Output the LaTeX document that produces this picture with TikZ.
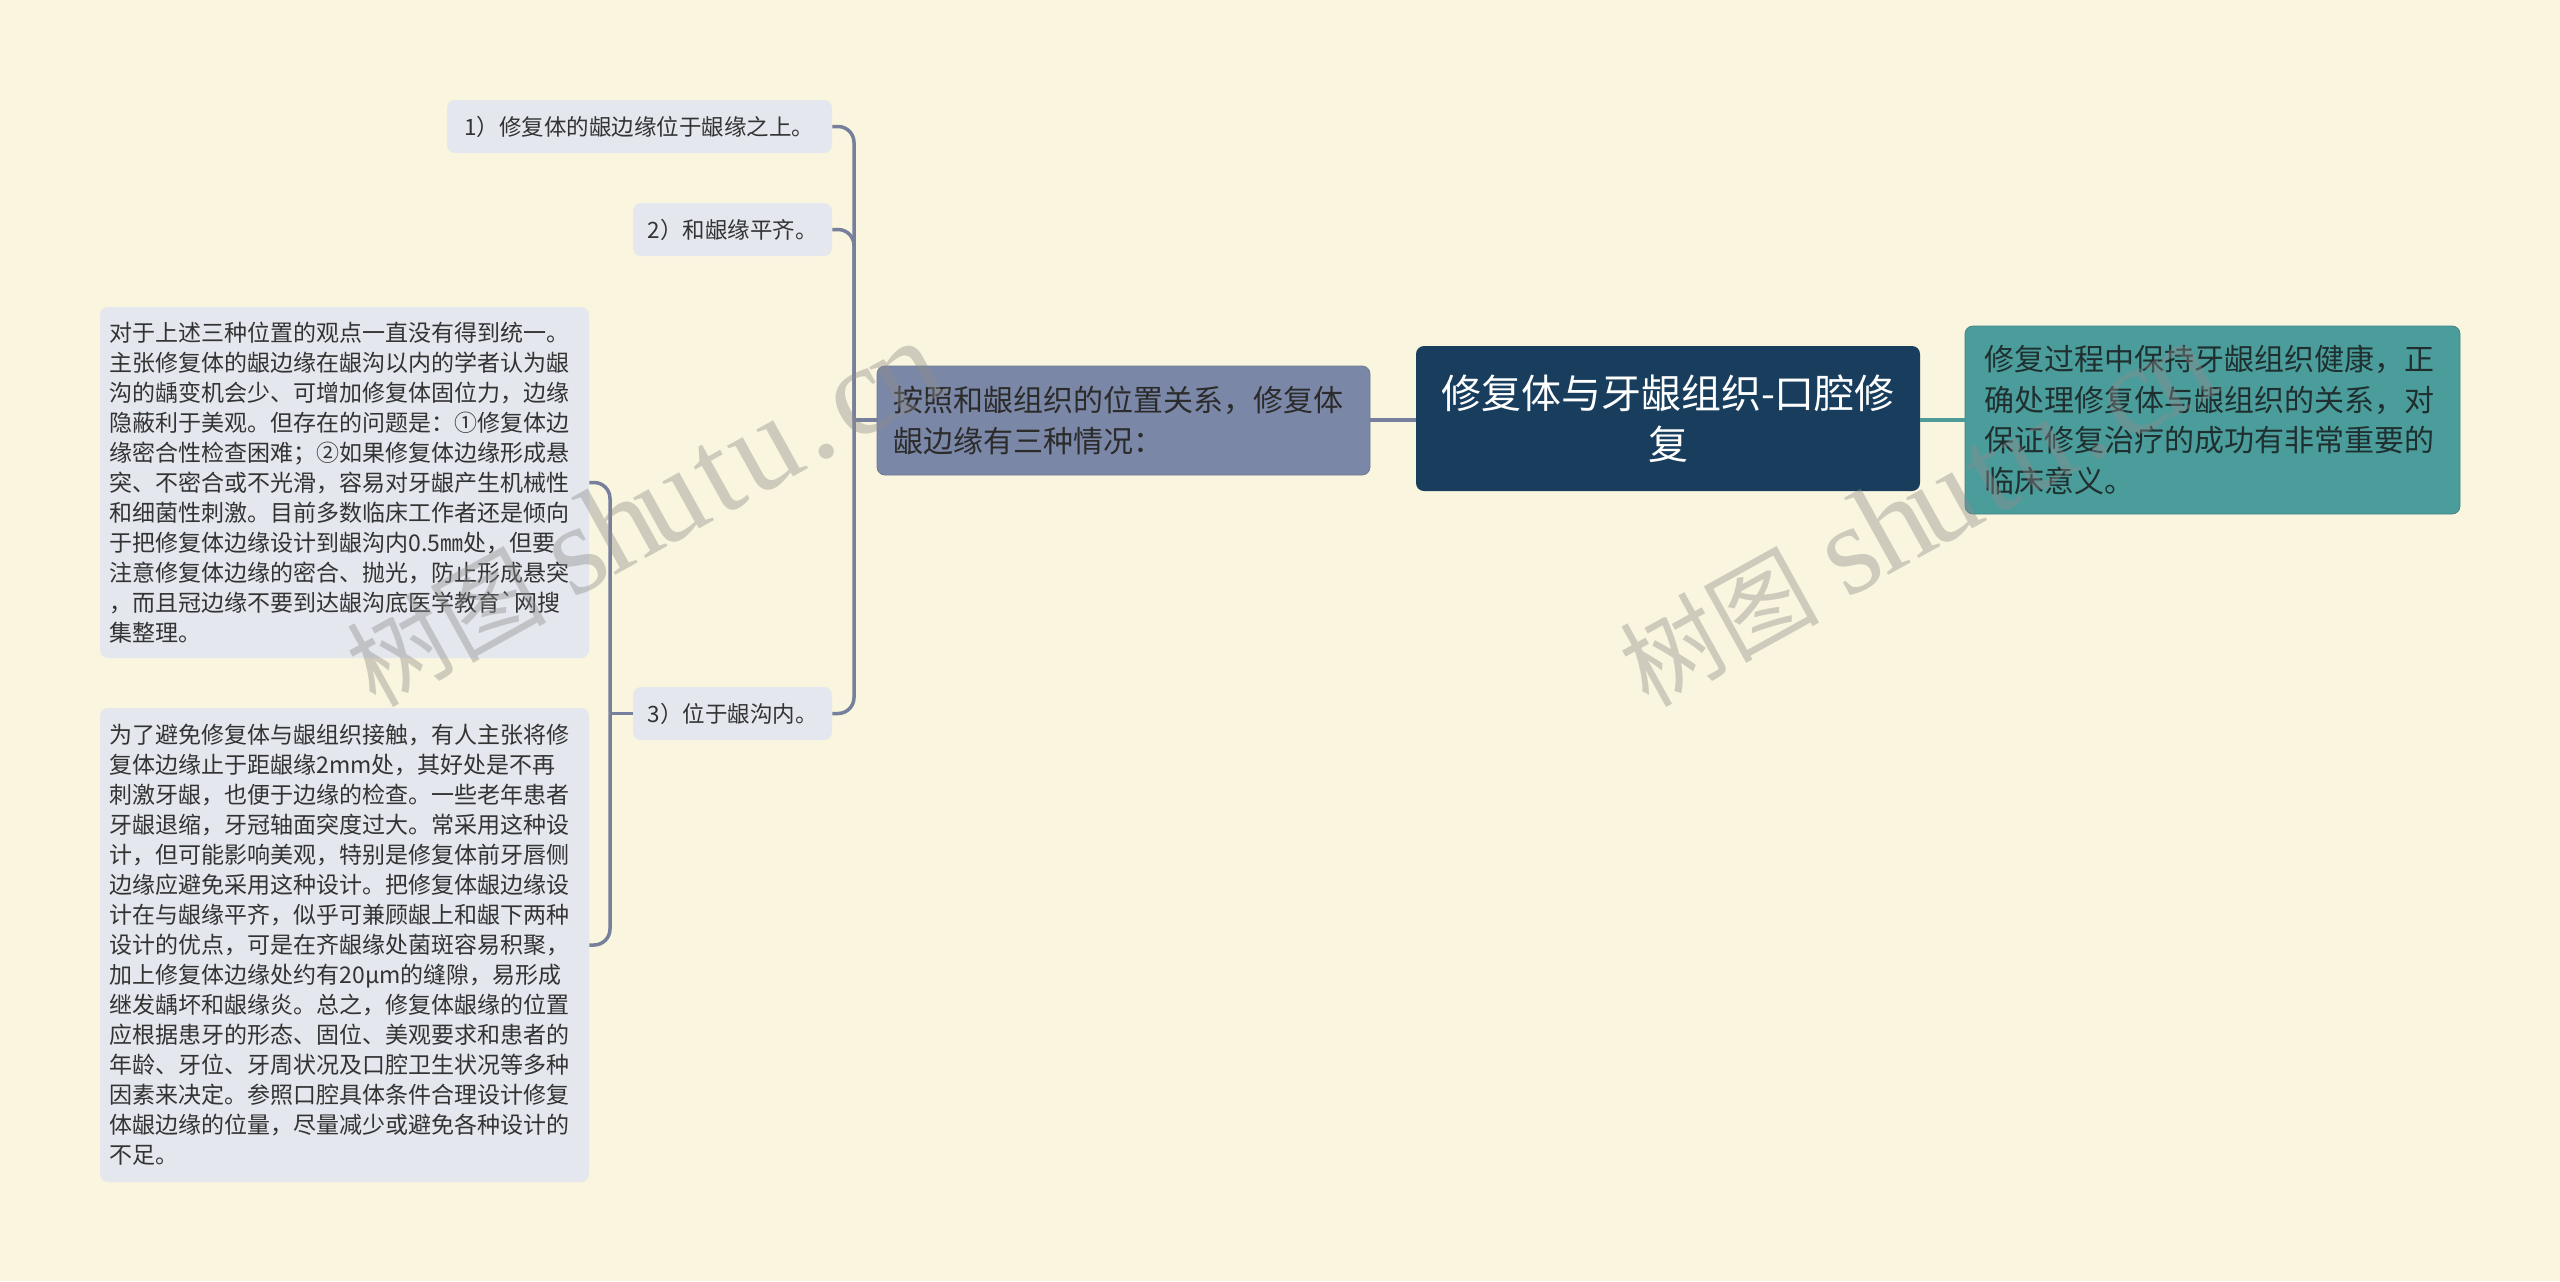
\documentclass[tikz,border=0pt]{standalone}
\usepackage{fontspec}
\setmainfont{Noto Sans CJK SC}
\setmonofont{Noto Sans CJK SC}
\newfontfamily\wmlatin{Liberation Serif}
\newcommand\hwbox[1]{\makebox[0.42em]{#1}}
\newcommand\wmtext{{\fontsize{50pt}{50pt}\selectfont 树图}\hspace{12pt}{\wmlatin\fontsize{64pt}{64pt}\selectfont\hwbox{s}\hwbox{h}\hwbox{u}\hwbox{t}\hwbox{u}\hwbox{.}\hwbox{c}\hwbox{n}}}
\definecolor{bg}{HTML}{FAF5DE}
\definecolor{leaffill}{HTML}{E4E7EE}
\definecolor{leaftext}{HTML}{333333}
\definecolor{midfill}{HTML}{7B87A6}
\definecolor{midtext}{HTML}{2B2B2B}
\definecolor{mainfill}{HTML}{183D5D}
\definecolor{rightfill}{HTML}{4B9D9B}
\definecolor{righttext}{HTML}{1F2F2F}
\definecolor{connc}{HTML}{767F9C}
\definecolor{tealc}{HTML}{4E9B9A}
\definecolor{wmc}{HTML}{8C8C8C}
\tikzset{
  leaf/.style={fill=leaffill, text=leaftext, rounded corners=4pt, inner sep=0pt,
    font=\fontsize{11.25pt}{14pt}\selectfont},
  block/.style={fill=leaffill, text=leaftext, rounded corners=4pt, inner ysep=0pt, inner xsep=4.75pt,
    text width=235pt, align=left, minimum width=244.5pt,
    font=\fontsize{11.5pt}{15pt}\selectfont},
  midbox/.style={fill=midfill, draw=midfill!90!black, line width=0.4pt, text=midtext, rounded corners=4pt,
    inner ysep=0pt, inner xsep=8.25pt, text width=230pt, align=left,
    minimum width=246.5pt, minimum height=54.5pt,
    font=\fontsize{15pt}{20.5pt}\selectfont},
  mainbox/.style={fill=mainfill, text=white, rounded corners=4pt, inner sep=0pt,
    minimum width=252pt, minimum height=72.5pt, align=center,
    font=\fontsize{20pt}{25.5pt}\selectfont},
  rightbox/.style={fill=rightfill, draw=rightfill!85!black, line width=0.4pt, text=righttext, rounded corners=4pt,
    inner ysep=0pt, inner xsep=9.75pt, text width=228pt, align=left,
    minimum width=247.5pt, minimum height=94pt,
    font=\fontsize{15pt}{20.25pt}\selectfont},
  conn/.style={draw=connc, line width=1.75pt},
  tconn/.style={draw=tealc, line width=1.75pt},
  wm/.style={text=wmc, text opacity=0.4, rotate=29, inner sep=0pt, anchor=base west}
}
\begin{document}
\begin{tikzpicture}[x=0.5pt,y=-0.5pt]
\fill[bg] (0,0) rectangle (2560,1281);
\useasboundingbox (0,0) rectangle (2560,1281);

% nodes
\node[mainbox] (m) at (1668,418.5) {修复体与牙龈组织-口腔修\\复};
\node[midbox] (c) at (1123.5,420.5) {按照和龈组织的位置关系，修复体\\龈边缘有三种情况：};
\node[rightbox] (r) at (2212.5,420) {修复过程中保持牙龈组织健康，正\\确处理修复体与龈组织的关系，对\\保证修复治疗的成功有非常重要的\\临床意义。};

\node[leaf, minimum width=192.5pt, minimum height=26.5pt] (n1) at (639.5,126.5) {1）修复体的龈边缘位于龈缘之上。};
\node[leaf, minimum width=99.5pt, minimum height=26.5pt] (n2) at (732.5,229.5) {2）和龈缘平齐。};
\node[leaf, minimum width=99.5pt, minimum height=26.5pt] (n3) at (732.5,713.5) {3）位于龈沟内。};

\node[block, minimum height=175.5pt] (b1) at (344.5,482.5) {对于上述三种位置的观点一直没有得到统一。\\主张修复体的龈边缘在龈沟以内的学者认为龈\\沟的龋变机会少、可增加修复体固位力，边缘\\隐蔽利于美观。但存在的问题是：①修复体边\\缘密合性检查困难；②如果修复体边缘形成悬\\突、不密合或不光滑，容易对牙龈产生机械性\\和细菌性刺激。目前多数临床工作者还是倾向\\于把修复体边缘设计到龈沟内0.5㎜处，但要\\注意修复体边缘的密合、抛光，防止形成悬突\\，而且冠边缘不要到达龈沟底医学教育\texttt{`}网搜\\集整理。};

\node[block, minimum height=237pt] (b2) at (344.5,945) {为了避免修复体与龈组织接触，有人主张将修\\复体边缘止于距龈缘2mm处，其好处是不再\\刺激牙龈，也便于边缘的检查。一些老年患者\\牙龈退缩，牙冠轴面突度过大。常采用这种设\\计，但可能影响美观，特别是修复体前牙唇侧\\边缘应避免采用这种设计。把修复体龈边缘设\\计在与龈缘平齐，似乎可兼顾龈上和龈下两种\\设计的优点，可是在齐龈缘处菌斑容易积聚，\\加上修复体边缘处约有20μm的缝隙，易形成\\继发龋坏和龈缘炎。总之，修复体龈缘的位置\\应根据患牙的形态、固位、美观要求和患者的\\年龄、牙位、牙周状况及口腔卫生状况等多种\\因素来决定。参照口腔具体条件合理设计修复\\体龈边缘的位量，尽量减少或避免各种设计的\\不足。};

% connectors
\coordinate (j1) at (854,420);
\coordinate (j2) at (610,713.5);
\draw[conn] (m.west |- 0,420) -- (c.east |- 0,420);
\draw[tconn] (m.east |- 0,420) -- (r.west |- 0,420);
\draw[conn] (c.west |- j1) -- (j1);
\foreach \t in {n1,n2,n3} \draw[conn, rounded corners=8pt] (j1) |- (\t.east);
\draw[conn] (n3.west) -- (j2);
\foreach \t in {b1,b2} \draw[conn, rounded corners=8pt] (j2) |- (\t.east);

% watermarks
\node[wm] (w1) at (375,709) {\wmtext};
\node[wm] (w2) at (1648,709) {\wmtext};
\end{tikzpicture}
\end{document}
